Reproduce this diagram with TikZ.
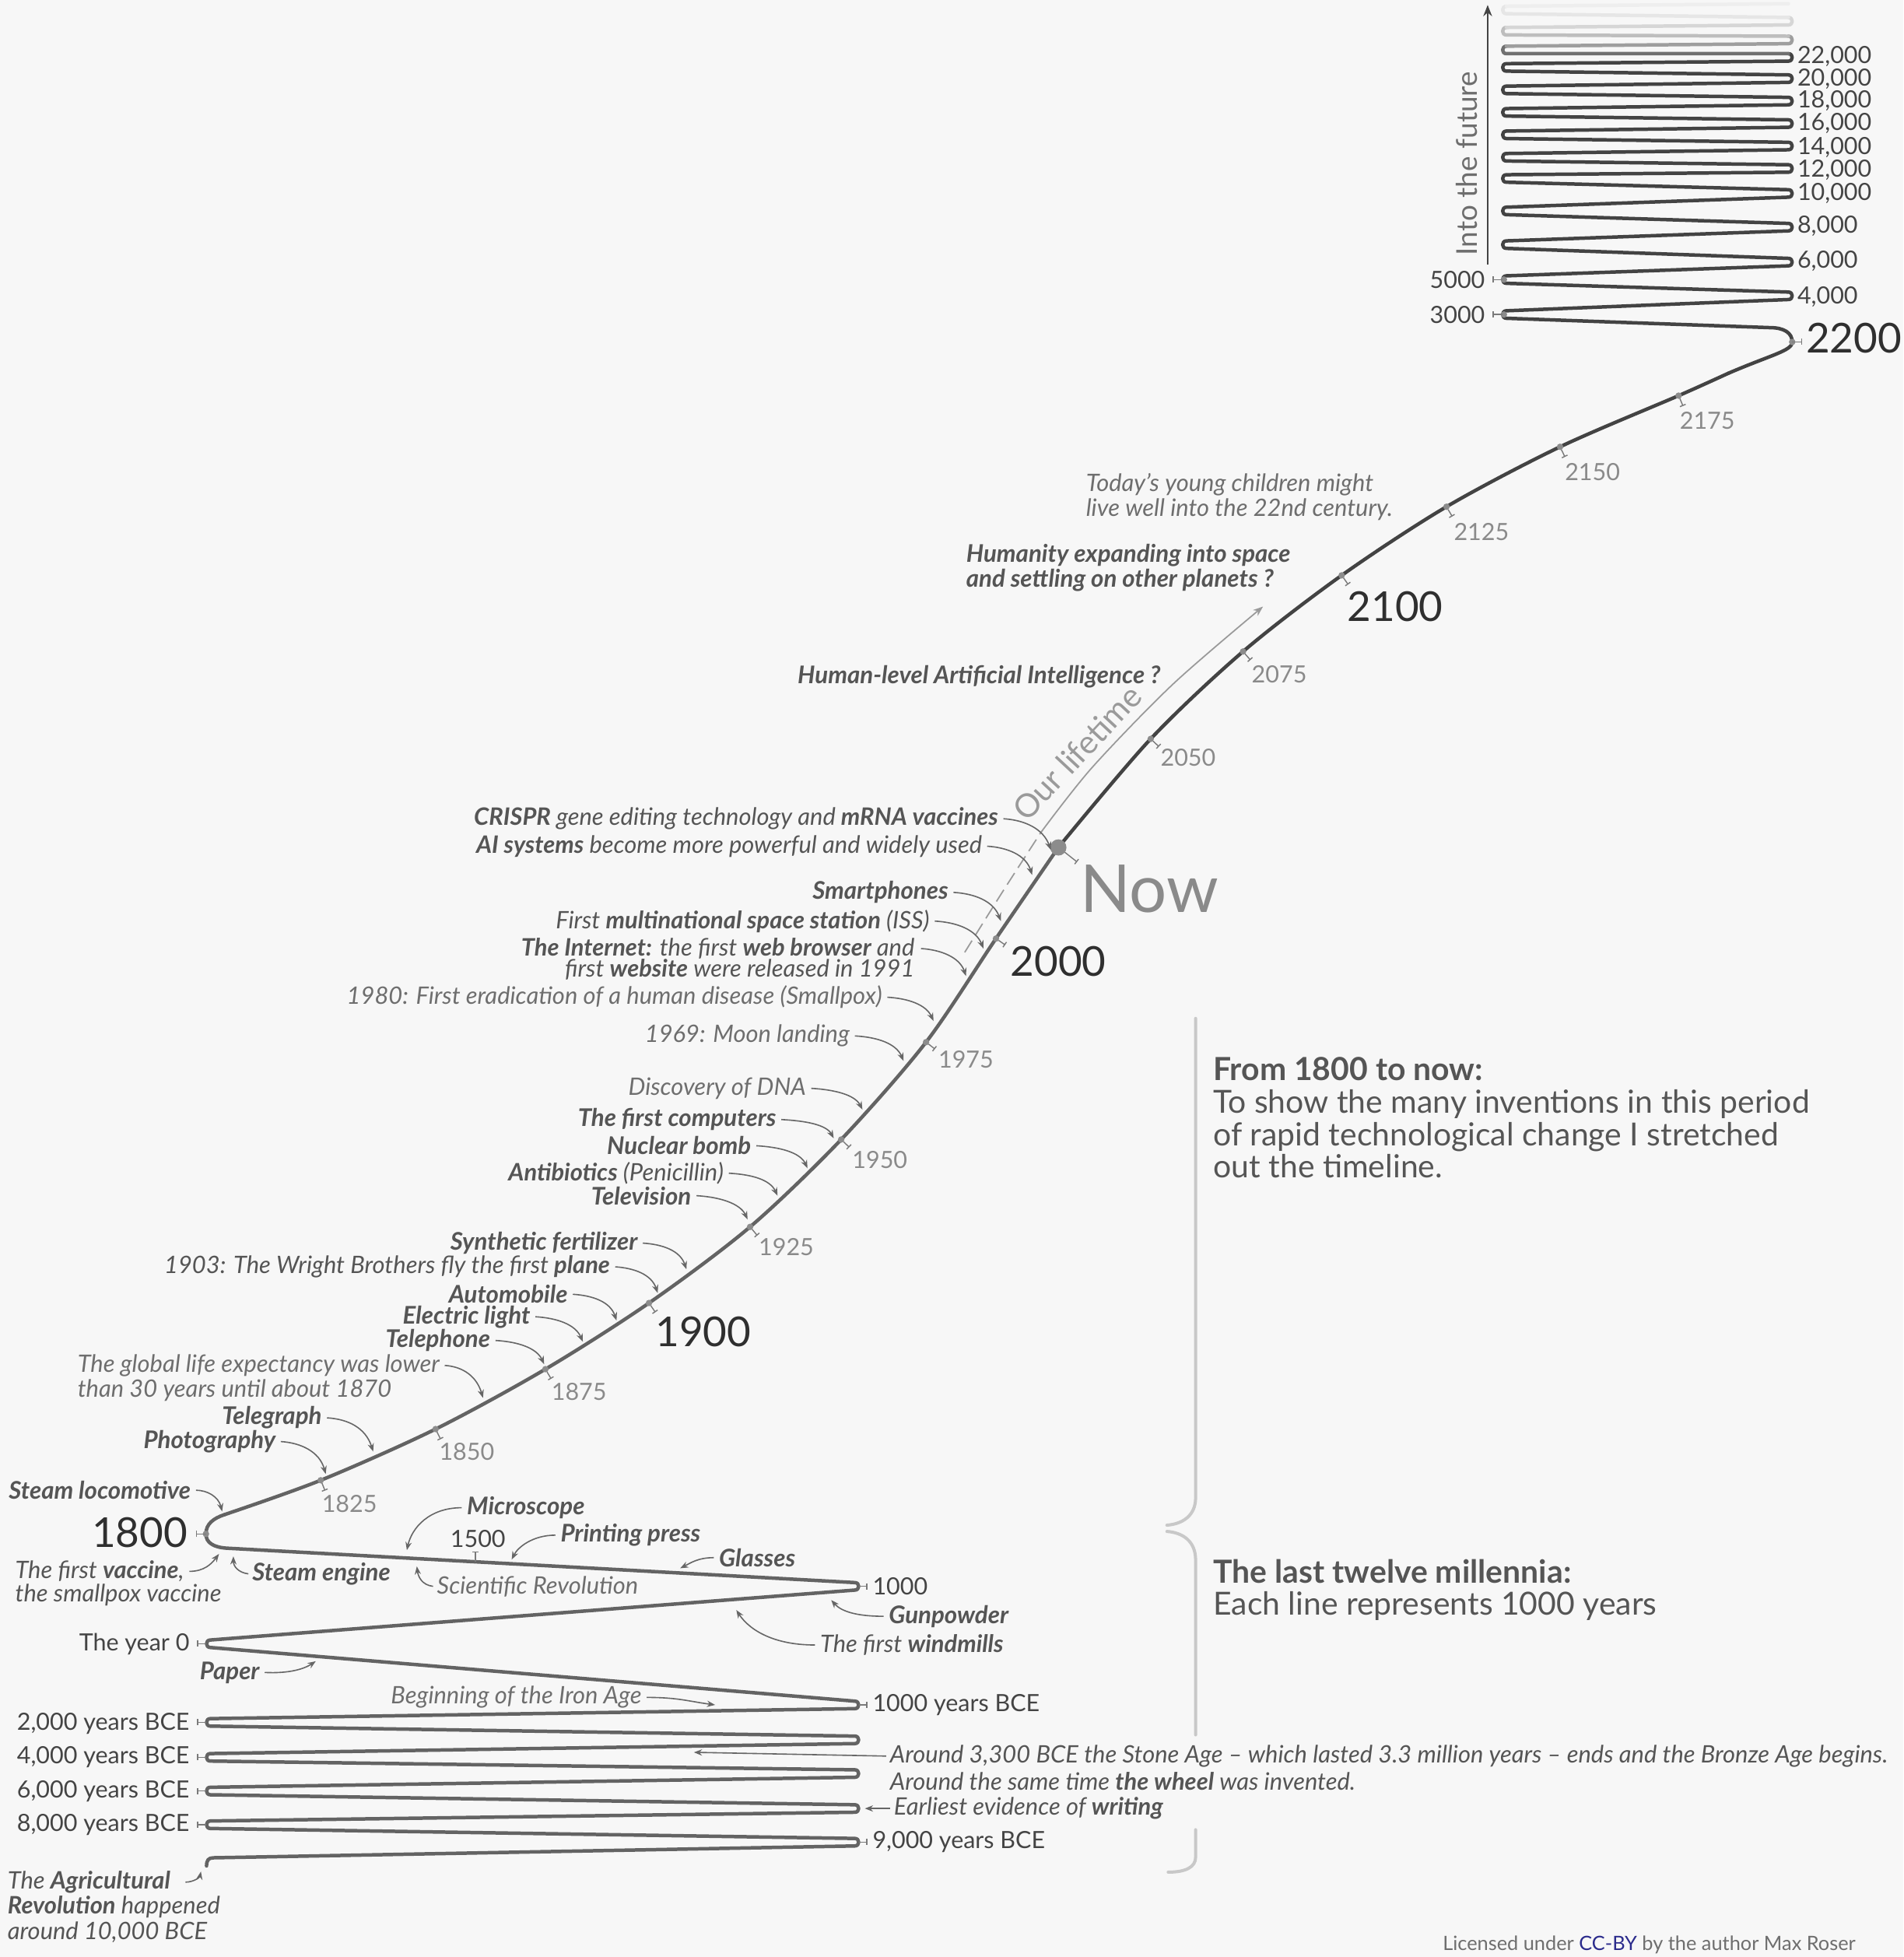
\documentclass[tikz,border=0pt]{standalone}
\usepackage{fontspec}
\setmainfont{Lato}
\usetikzlibrary{arrows.meta}
\definecolor{bgc}{HTML}{F7F7F7}
\definecolor{pastc}{HTML}{636363}
\definecolor{futc}{HTML}{434343}
\definecolor{dotc}{HTML}{8C8C8C}
\definecolor{tickc}{HTML}{7A7A7A}
\definecolor{annc}{HTML}{555555}
\definecolor{annl}{HTML}{6E6E6E}
\definecolor{arrc}{HTML}{666666}
\definecolor{yrc}{HTML}{8A8A8A}
\definecolor{bigc}{HTML}{2F2F2F}
\definecolor{labc}{HTML}{444444}
\definecolor{bracec}{HTML}{C8C8C8}
\definecolor{ccblue}{HTML}{2B2B8C}
\definecolor{ltc}{HTML}{9A9A9A}
\definecolor{fadeA}{HTML}{707070}
\definecolor{fadeB}{HTML}{9E9E9E}
\definecolor{fadeC}{HTML}{BEBEBE}
\definecolor{fadeD}{HTML}{D6D6D6}
\definecolor{fadeE}{HTML}{E6E6E6}
\definecolor{fadeF}{HTML}{EEEEEE}
\begin{document}
\begin{tikzpicture}[x=1pt, y=-1pt,
  pastline/.style={draw=pastc, line width=2.8pt, line cap=round, line join=round},
  futline/.style={draw=futc, line width=2.8pt, line cap=round, line join=round},
  tk/.style={draw=tickc, line width=0.9pt, -{Bar[width=5pt,line width=0.9pt]}},
  arr/.style={draw=arrc, line width=1pt, -{Stealth[length=6.5pt,width=5pt]}},
  ann/.style={inner sep=0pt, text=annc, font=\fontsize{19.25}{20}\selectfont\itshape},
  annB/.style={ann, font=\fontsize{19.5}{20}\selectfont\bfseries\itshape},
  annL/.style={ann, text=annl},
  yr/.style={inner sep=0pt, text=yrc, font=\fontsize{19}{21}\selectfont},
  yrbig/.style={inner sep=0pt, text=bigc, font=\fontsize{33}{36}\selectfont},
  lab/.style={inner sep=0pt, text=labc, font=\fontsize{19}{21}\selectfont},
  brace/.style={draw=bracec, line width=2.5pt, line cap=round},
  info/.style={inner sep=0pt, text=annc, align=left, font=\fontsize{25.5}{26}\selectfont}]

\useasboundingbox (0,0) rectangle (1525,1568);
\fill[bgc] (0,0) rectangle (1525,1568);

% ---------- past zigzag (10,000 BCE to 1800) ----------
\draw[pastline] (165.5,1495) .. controls (165.5,1490.5) and (167,1488.5) .. (171,1488.5)
 -- (685,1479) .. controls (689,1479) and (689,1473) .. (685,1473)
 -- (168.5,1465) .. controls (164.5,1465) and (164.5,1459) .. (168.5,1459)
 -- (685,1452) .. controls (689,1452) and (689,1446) .. (685,1446)
 -- (168.5,1438) .. controls (164.5,1438) and (164.5,1432) .. (168.5,1432)
 -- (685,1424) .. controls (689,1424) and (689,1418) .. (685,1418)
 -- (168.5,1411) .. controls (164.5,1411) and (164.5,1405) .. (168.5,1405)
 -- (685,1397) .. controls (689,1397) and (689,1391) .. (685,1391)
 -- (168.5,1383) .. controls (164.5,1383) and (164.5,1377) .. (168.5,1377)
 -- (685,1369) .. controls (689,1369) and (689,1363) .. (685,1363)
 -- (168.5,1320) .. controls (164.5,1320) and (164.5,1314) .. (168.5,1314)
 -- (685,1274) .. controls (689,1274) and (689,1268) .. (685,1268)
 -- (183,1240.5) .. controls (171,1240) and (165,1236) .. (165,1229)
 .. controls (165,1221) and (171,1216.5) .. (180,1213.5);
\draw[pastline] plot[smooth] coordinates {(180,1213.5) (257,1186) (349,1145) (437,1097) (520,1044) (601,983) (674,913) (742,835) (798,752) (848,679)};

% ---------- future ----------
\draw[futline] plot[smooth] coordinates {(848,679) (922,592) (996,522) (1075,461) (1159,406) (1250,358) (1345,317) (1385,299)};
\draw[futline] (1385,299) .. controls (1420,284) and (1436,281) .. (1436,274)
 .. controls (1436,267) and (1430,262.5) .. (1418,262.5)
 -- (1207,255) .. controls (1203,255) and (1203,249) .. (1207,249)
 -- (1433,240) .. controls (1437,240) and (1437,234) .. (1433,234)
 -- (1207,227) .. controls (1203,227) and (1203,221) .. (1207,221)
 -- (1433,213) .. controls (1437,213) and (1437,207) .. (1433,207)
 -- (1207,199) .. controls (1203,199) and (1203,193) .. (1207,193)
 -- (1433,185) .. controls (1437,185) and (1437,179) .. (1433,179)
 -- (1207,172) .. controls (1203,172) and (1203,166) .. (1207,166)
 -- (1433,158) .. controls (1437,158) and (1437,152) .. (1433,152)
 -- (1207,146) .. controls (1203,146) and (1203,140) .. (1207,140)
 -- (1433,138) .. controls (1437,138) and (1437,132) .. (1433,132)
 -- (1207,129) .. controls (1203,129) and (1203,123) .. (1207,123)
 -- (1433,120) .. controls (1437,120) and (1437,114) .. (1433,114)
 -- (1207,111) .. controls (1203,111) and (1203,105) .. (1207,105)
 -- (1433,102) .. controls (1437,102) and (1437,96) .. (1433,96)
 -- (1207,93) .. controls (1203,93) and (1203,87) .. (1207,87)
 -- (1433,84) .. controls (1437,84) and (1437,78) .. (1433,78)
 -- (1207,75) .. controls (1203,75) and (1203,69) .. (1207,69)
 -- (1433,66) .. controls (1437,66) and (1437,60) .. (1433,60)
 -- (1207,57) .. controls (1203,57) and (1203,51) .. (1207,51)
 -- (1433,49) .. controls (1437,49) and (1437,43) .. (1433,43);
\draw[futline, draw=fadeA] (1433,43) -- (1207,43) .. controls (1203,43) and (1203,37) .. (1207,37);
\draw[futline, draw=fadeB] (1207,37) -- (1433,35) .. controls (1437,35) and (1437,29) .. (1433,29);
\draw[futline, draw=fadeC] (1433,29) -- (1207,28) .. controls (1203,28) and (1203,22) .. (1207,22);
\draw[futline, draw=fadeD] (1207,22) -- (1433,20) .. controls (1437,20) and (1437,14) .. (1433,14);
\draw[futline, draw=fadeE] (1433,14) -- (1207,11) .. controls (1203,11) and (1203,5) .. (1207,5);
\draw[futline, draw=fadeF] (1207,5) -- (1433,3);

% ---------- ticks and dots on the curve ----------
\foreach \sx/\sy/\ex/\ey in {258/1188.3/260.4/1194.3, 350.1/1147.2/353/1153.1, 438.3/1099.2/441.6/1104.7, 521.4/1046/525.1/1051.4, 602.6/984.9/606.8/989.9, 675.8/914.7/680.5/919.2, 744/836.5/749.1/840.5, 800.1/753.4/805.4/757.1, 923.8/593.7/928.6/598.2, 997.6/523.9/1001.9/528.8, 1076.5/463/1080.2/468.3, 1160.3/408.2/1163.6/413.8, 1251.1/360.3/1253.9/366.1, 1346/319.3/1348.5/325.3}
  \draw[tk] (\sx,\sy) -- (\ex,\ey);
\foreach \px/\py in {257/1186, 349/1145, 437/1097, 520/1044, 601/983, 674/913, 742/835, 798/752, 922/592, 996/522, 1075/461, 1159/406, 1250/358, 1345/317, 165/1229, 1205/224, 1205/252, 1436/274}
  \fill[dotc] (\px,\py) circle[radius=2.6pt];
\draw[tk] (853,682.7) -- (863,690.6);
\fill[dotc] (848,679) circle[radius=6.5pt];

% vertex ticks
\draw[tk] (165,1229) -- (157,1229);
\draw[tk] (381,1251) -- (381,1243);
\foreach \vy in {1317,1380,1408,1435,1462} \draw[tk] (165,\vy) -- (158,\vy);
\foreach \vy in {1271,1366,1476} \draw[tk] (688,\vy) -- (695,\vy);
\draw[tk] (1204,224) -- (1196,224);
\draw[tk] (1204,252) -- (1196,252);
\draw[tk] (1436,274) -- (1444,274);

% ---------- year labels ----------
\node[yrbig] (y1800) at (112,1228) {1800};
\node[yrbig] (y1900) at (563.5,1067) {1900};
\node[yrbig] (y2000) at (848,770.5) {2000};
\node[yrbig] (y2100) at (1118,486) {2100};
\node[yrbig, anchor=west] (y2200) at (1447,271) {2200};
\node[inner sep=0pt, text=yrc, font=\fontsize{53}{56}\selectfont] (now) at (921,712) {Now};
\node[yr] (y1825) at (280,1205) {1825};
\node[yr] (y1850) at (374,1163) {1850};
\node[yr] (y1875) at (464,1115) {1875};
\node[yr] (y1925) at (630,999) {1925};
\node[yr] (y1950) at (705,929) {1950};
\node[yr] (y1975) at (774,849) {1975};
\node[yr] (y2050) at (952,607) {2050};
\node[yr] (y2075) at (1025,540) {2075};
\node[yr] (y2125) at (1187,426) {2125};
\node[yr] (y2150) at (1276,378) {2150};
\node[yr] (y2175) at (1368,337) {2175};
\node[lab] (y1500) at (383,1233) {1500};

\node[lab, anchor=east] (y0) at (152,1317) {The year 0};
\node[lab, anchor=east] (b2) at (152,1381) {2,000 years BCE};
\node[lab, anchor=east] (b4) at (152,1408) {4,000 years BCE};
\node[lab, anchor=east] (b6) at (152,1435) {6,000 years BCE};
\node[lab, anchor=east] (b8) at (152,1462) {8,000 years BCE};
\node[lab, anchor=west] (y1000) at (699,1271) {1000};
\node[lab, anchor=west] (b1) at (699,1366) {1000 years BCE};
\node[lab, anchor=west] (b9) at (699,1476) {9,000 years BCE};

\node[lab, anchor=west] (f22) at (1440,45) {22,000};
\node[lab, anchor=west] (f20) at (1440,63) {20,000};
\node[lab, anchor=west] (f18) at (1440,81) {18,000};
\node[lab, anchor=west] (f16) at (1440,99) {16,000};
\node[lab, anchor=west] (f14) at (1440,118) {14,000};
\node[lab, anchor=west] (f12) at (1440,136) {12,000};
\node[lab, anchor=west] (f10) at (1440,155) {10,000};
\node[lab, anchor=west] (f8) at (1440,181) {8,000};
\node[lab, anchor=west] (f6) at (1440,209) {6,000};
\node[lab, anchor=west] (f4) at (1440,238) {4,000};
\node[lab, anchor=east] (f5) at (1190,224) {5000};
\node[lab, anchor=east] (f3) at (1190,252) {3000};

% into the future
\coordinate (futA) at (1192,212);
\coordinate (futB) at (1192,4);
\draw[draw=labc, line width=1.3pt, -{Stealth[length=9pt,width=7pt]}] (futA) -- (futB);
\node[rotate=90, inner sep=0pt, text=annl, font=\fontsize{23}{25}\selectfont] (futtxt) at (1175,131) {Into the future};

% our lifetime
\draw[draw=ltc, line width=1.1pt, dash pattern=on 11pt off 5pt] plot[smooth] coordinates {(773,763) (803,715) (834,667)};
\draw[draw=ltc, line width=1.1pt, -{Stealth[length=8pt,width=6pt]}] plot[smooth] coordinates {(834,667) (875,615) (940,548) (1012,486)};
\node[rotate=47, inner sep=0pt, text=ltc, font=\fontsize{26}{28}\selectfont] (ourlt) at (863,603) {Our lifetime};

% ---------- annotations ----------
\node[annL, anchor=west] (kids1) at (870,388) {Today’s young children might};
\node[annL, anchor=west] (kids2) at (870,408) {live well into the 22nd century.};
\node[annB, anchor=west] (space1) at (774,445) {Humanity expanding into space};
\node[annB, anchor=west] (space2) at (774,465) {and settling on other planets ?};
\node[annB, anchor=east] (hlai) at (930,542) {Human-level Artificial Intelligence ?};
\node[ann, anchor=east] (crispr) at (800,656) {\textbf{CRISPR} gene editing technology and \textbf{mRNA vaccines}};
\node[ann, anchor=east] (aisys) at (787,678) {\textbf{AI systems} become more powerful and widely used};
\node[annB, anchor=east] (phones) at (760,715) {Smartphones};
\node[ann, anchor=east] (iss) at (745,738) {First \textbf{multinational space station} (ISS)};
\node[ann, anchor=east] (web1) at (733,760) {\textbf{The Internet:} the first \textbf{web browser} and};
\node[ann, anchor=east] (web2) at (733,777) {first \textbf{website} were released in 1991};
\node[annL, anchor=east] (smallpox) at (707,799) {1980: First eradication of a human disease (Smallpox)};
\node[annL, anchor=east] (moon) at (681,830) {1969: Moon landing};
\node[annL, anchor=east] (dna) at (646,872) {Discovery of DNA};
\node[annB, anchor=east] (comp) at (622,897) {The first computers};
\node[annB, anchor=east] (nuke) at (602,918) {Nuclear bomb};
\node[ann, anchor=east] (anti) at (580,940) {\textbf{Antibiotics} (Penicillin)};
\node[annB, anchor=east] (tv) at (554,958) {Television};
\node[annB, anchor=east] (fert) at (511,996) {Synthetic fertilizer};
\node[ann, anchor=east] (wright) at (489,1015) {1903: The Wright Brothers fly the first \textbf{plane}};
\node[annB, anchor=east] (auto) at (455,1037) {Automobile};
\node[annB, anchor=east] (elec) at (425,1055) {Electric light};
\node[annB, anchor=east] (phone) at (393,1074) {Telephone};
\node[annL, anchor=west] (life1) at (62,1094) {The global life expectancy was lower};
\node[annL, anchor=west] (life2) at (62,1114) {than 30 years until about 1870};
\node[annB, anchor=east] (tgraph) at (258,1136) {Telegraph};
\node[annB, anchor=east] (photo) at (221,1155) {Photography};
\node[annB, anchor=east] (loco) at (153,1194) {Steam locomotive};
\node[ann, anchor=west] (vacc1) at (12,1259) {The first \textbf{vaccine},};
\node[ann, anchor=west] (vacc2) at (12,1278) {the smallpox vaccine};
\node[annB, anchor=west] (steng) at (202,1261) {Steam engine};
\node[annL, anchor=west] (scirev) at (350,1271) {Scientific Revolution};
\node[annB, anchor=west] (micro) at (374,1208) {Microscope};
\node[annB, anchor=west] (print) at (449,1230) {Printing press};
\node[annB, anchor=west] (glass) at (576,1248) {Glasses};
\node[annB, anchor=west] (gun) at (712,1295) {Gunpowder};
\node[ann, anchor=west] (wind) at (657,1318) {The first \textbf{windmills}};
\node[annB, anchor=west] (paper) at (160,1340) {Paper};
\node[annL, anchor=west] (iron) at (313,1360) {Beginning of the Iron Age};
\node[ann, anchor=west] (stone1) at (713,1407) {Around 3,300 BCE the Stone Age – which lasted 3.3 million years – ends and the Bronze Age begins.};
\node[ann, anchor=west] (stone2) at (713,1427) {Around the same time \textbf{the wheel} was invented.};
\node[ann, anchor=west] (writ) at (716,1449) {Earliest evidence of \textbf{writing}};
\node[ann, anchor=west] (agri1) at (6,1508) {The \textbf{Agricultural}};
\node[ann, anchor=west] (agri2) at (6,1528) {\textbf{Revolution} happened};
\node[ann, anchor=west] (agri3) at (6,1548) {around 10,000 BCE};

% ---------- arrow targets ----------
\coordinate (t-crispr) at (842,681);
\coordinate (t-ai) at (827,701);
\coordinate (t-phones) at (802,738);
\coordinate (t-iss) at (788,760);
\coordinate (t-web) at (774,782);
\coordinate (t-smallpox) at (748,818);
\coordinate (t-moon) at (724,850);
\coordinate (t-dna) at (691,889);
\coordinate (t-comp) at (668,912);
\coordinate (t-nuke) at (647,936);
\coordinate (t-anti) at (623,958);
\coordinate (t-tv) at (599,977);
\coordinate (t-fert) at (550,1017);
\coordinate (t-wright) at (527,1036);
\coordinate (t-auto) at (494,1058);
\coordinate (t-elec) at (467,1075);
\coordinate (t-phone) at (436,1093);
\coordinate (t-life) at (387,1120);
\coordinate (t-tgraph) at (299,1163);
\coordinate (t-photo) at (261,1181);
\coordinate (t-loco) at (178,1211);
\coordinate (t-vacc) at (175.5,1245);
\coordinate (t-steng) at (187,1247);
\coordinate (t-scirev) at (334,1255);
\coordinate (t-micro) at (326,1242);
\coordinate (t-print) at (410,1249.5);
\coordinate (t-glass) at (545,1256.5);
\coordinate (t-gun) at (666,1282);
\coordinate (t-wind) at (590,1290);
\coordinate (t-paper) at (253,1331);
\coordinate (t-iron) at (573,1366);
\coordinate (t-stone) at (556,1404);
\coordinate (t-writ) at (693,1449);
\coordinate (t-agri) at (161,1499.5);

% ---------- arrows ----------
\draw[arr] ([xshift=4pt]crispr.east) .. controls +(17,1) and +(-6,-17) .. (t-crispr);
\draw[arr] ([xshift=4pt]aisys.east) .. controls +(16,1) and +(-5,-16) .. (t-ai);
\draw[arr] ([xshift=4pt]phones.east) .. controls +(17,1) and +(-6,-16) .. (t-phones);
\draw[arr] ([xshift=4pt]iss.east) .. controls +(18,1) and +(-6,-15) .. (t-iss);
\draw[arr] ([xshift=5pt]web1.east) .. controls +(16,1) and +(-5,-15) .. (t-web);
\draw[arr] ([xshift=4pt]smallpox.east) .. controls +(17,1) and +(-6,-13) .. (t-smallpox);
\draw[arr] ([xshift=4pt]moon.east) .. controls +(18,1) and +(-6,-14) .. (t-moon);
\draw[arr] ([xshift=4pt]dna.east) .. controls +(18,1) and +(-6,-12) .. (t-dna);
\draw[arr] ([xshift=4pt]comp.east) .. controls +(19,1) and +(-6,-11) .. (t-comp);
\draw[arr] ([xshift=4pt]nuke.east) .. controls +(18,1) and +(-6,-13) .. (t-nuke);
\draw[arr] ([xshift=4pt]anti.east) .. controls +(18,1) and +(-6,-13) .. (t-anti);
\draw[arr] ([xshift=4pt]tv.east) .. controls +(18,1) and +(-6,-13) .. (t-tv);
\draw[arr] ([xshift=4pt]fert.east) .. controls +(16,1) and +(-5,-15) .. (t-fert);
\draw[arr] ([xshift=4pt]wright.east) .. controls +(15,1) and +(-5,-15) .. (t-wright);
\draw[arr] ([xshift=4pt]auto.east) .. controls +(16,1) and +(-5,-15) .. (t-auto);
\draw[arr] ([xshift=4pt]elec.east) .. controls +(17,1) and +(-6,-14) .. (t-elec);
\draw[arr] ([xshift=4pt]phone.east) .. controls +(18,1) and +(-6,-13) .. (t-phone);
\draw[arr] ([xshift=4pt]life1.east) .. controls +(15,1) and +(-5,-17) .. (t-life);
\draw[arr] ([xshift=4pt]tgraph.east) .. controls +(17,1) and +(-6,-19) .. (t-tgraph);
\draw[arr] ([xshift=4pt]photo.east) .. controls +(16,1) and +(-5,-18) .. (t-photo);
\draw[arr] ([xshift=4pt]loco.east) .. controls +(9,0) and +(-3,-12) .. (t-loco);
\draw[arr] ([xshift=4pt]vacc1.east) .. controls +(12,0) and +(-6,8) .. (t-vacc);
\draw[arr] ([xshift=-3pt]steng.west) .. controls +(-8,-1) and +(0,8) .. (t-steng);
\draw[arr] ([xshift=-3pt]scirev.west) .. controls +(-9,-1) and +(1,8) .. (t-scirev);
\draw[arr] ([xshift=-4pt]micro.west) .. controls +(-26,0) and +(4,-18) .. (t-micro);
\draw[arr] ([xshift=-4pt]print.west) .. controls +(-18,0) and +(5,-10) .. (t-print);
\draw[arr] ([xshift=-4pt]glass.west) .. controls +(-13,0) and +(8,-4) .. (t-glass);
\draw[arr] ([xshift=-4pt]gun.west) .. controls +(-22,0) and +(8,9) .. (t-gun);
\draw[arr] ([xshift=-4pt]wind.west) .. controls +(-36,0) and +(9,14) .. (t-wind);
\draw[arr] ([xshift=4pt]paper.east) .. controls +(20,1) and +(-9,6) .. (t-paper);
\draw[arr] ([xshift=4pt]iron.east) .. controls +(25,0) and +(-22,-3) .. (t-iron);
\draw[arr] ([xshift=-3pt]stone1.west) -- (t-stone);
\draw[arr] ([xshift=-3pt]writ.west) -- (t-writ);
\draw[arr] ([xshift=12pt]agri1.east) .. controls +(6,0) and +(-1,5) .. (t-agri);

% ---------- braces and side text ----------
\draw[brace] (958,816) -- (958,1200) .. controls (958,1214) and (948,1221) .. (935,1222);
\draw[brace] (935,1227) .. controls (948,1228) and (958,1235) .. (958,1250) -- (958,1390);
\draw[brace] (958,1466) -- (958,1488) .. controls (958,1496) and (950,1500) .. (936,1500);

\node[info, anchor=north west] (info1) at (972,847) {\textbf{From 1800 to now:}\\To show the many inventions in this period\\of rapid technological change I stretched\\out the timeline.};
\node[info, anchor=north west] (info2) at (972,1249) {\textbf{The last twelve millennia:}\\Each line represents 1000 years};

\node[inner sep=0pt, anchor=east, text=annl, font=\fontsize{15.8}{17}\selectfont] (lic) at (1487,1558) {Licensed under \textcolor{ccblue}{CC-BY} by the author Max Roser};
\end{tikzpicture}
\end{document}
